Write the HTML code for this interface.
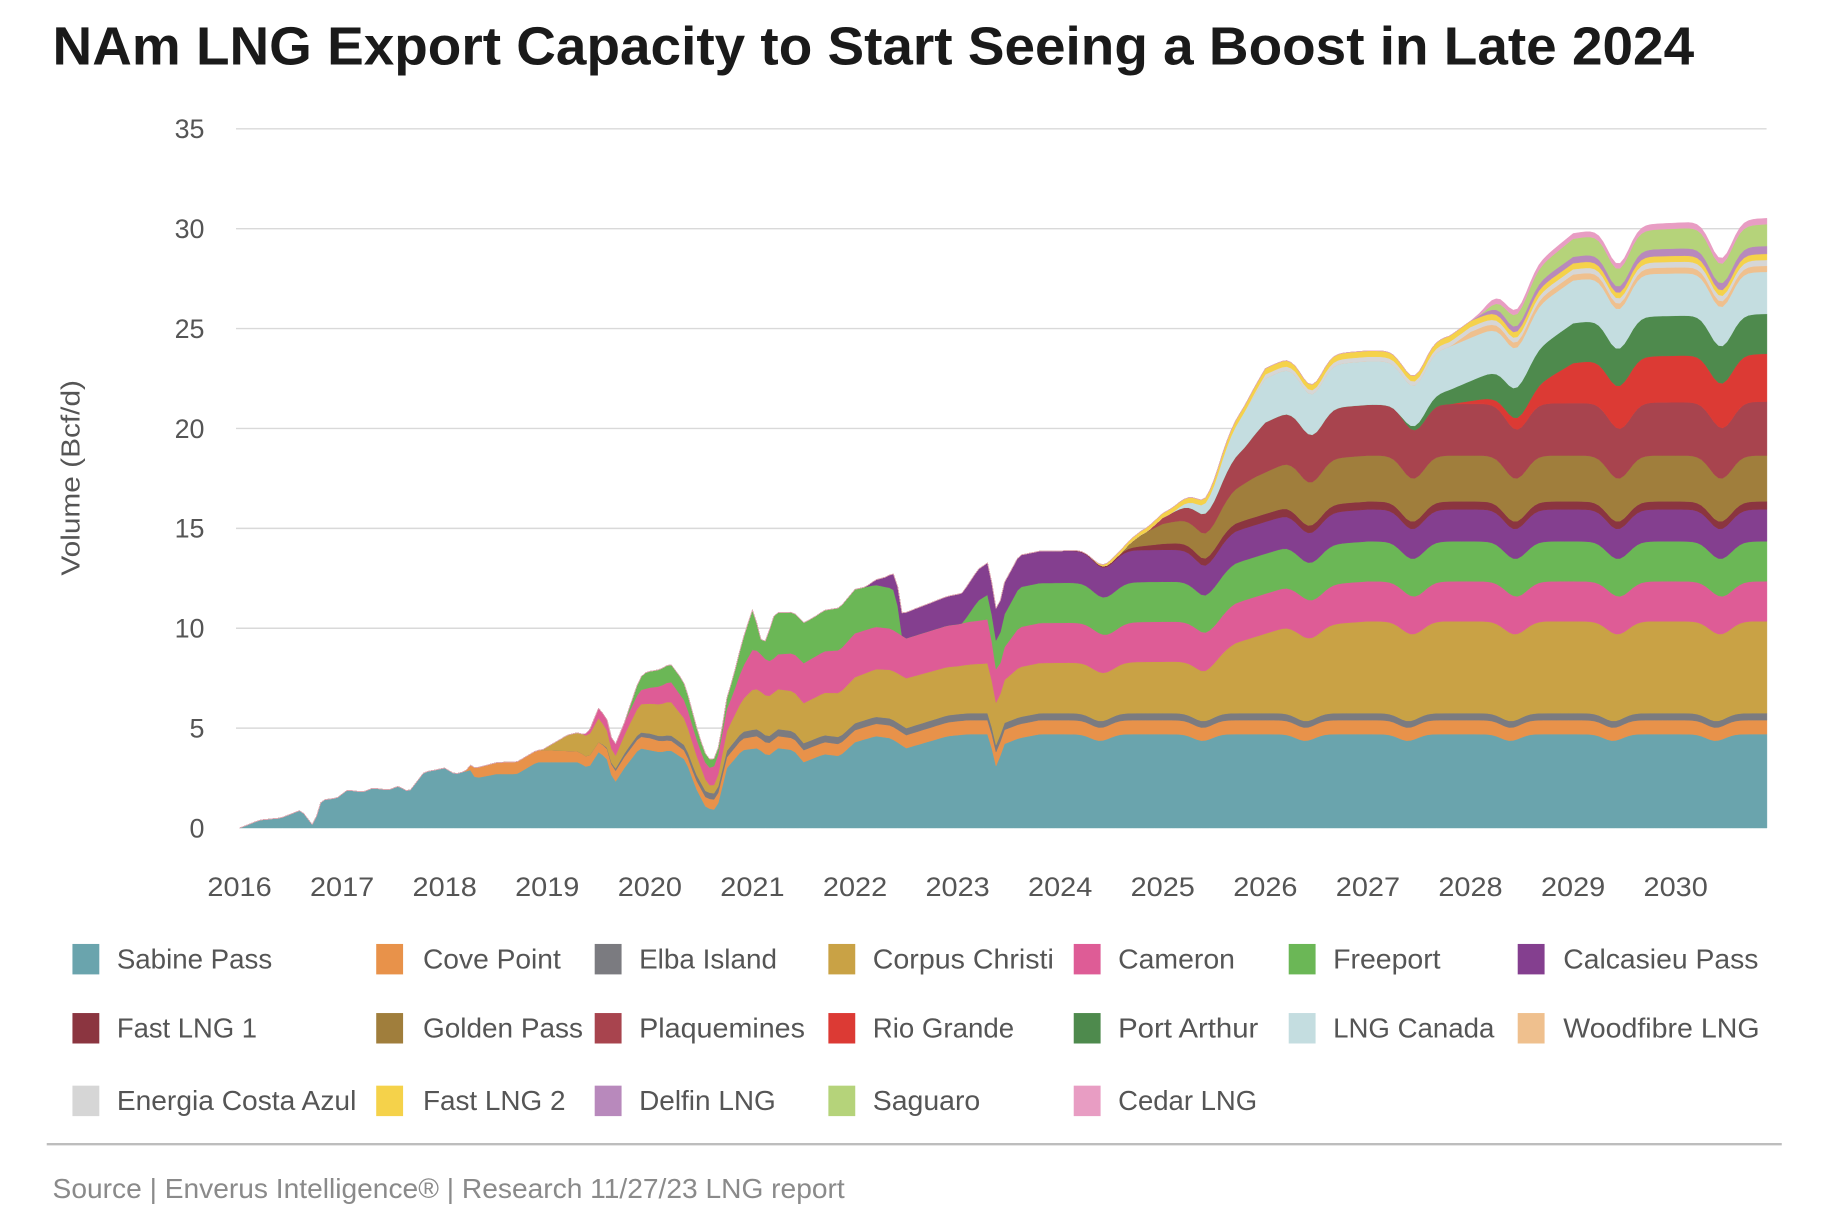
<!DOCTYPE html>
<html><head><meta charset="utf-8"><style>
html,body{margin:0;padding:0;background:#fff;width:1832px;height:1218px;overflow:hidden}
svg{display:block}
text{font-family:"Liberation Sans Narrow","Liberation Sans",sans-serif}
</style></head><body>
<svg id="s" width="1832" height="1218" viewBox="0 0 1568 1040" preserveAspectRatio="none" xmlns="http://www.w3.org/2000/svg">
<text x="45" y="55" font-size="46" font-weight="bold" fill="#1a1a1a" textLength="1405" lengthAdjust="spacingAndGlyphs" style="font-family:'Liberation Sans',sans-serif">NAm LNG Export Capacity to Start Seeing a Boost in Late 2024</text>
<g id="grid"></g>
<g id="areas"></g>
<g id="axes" font-size="23" fill="#555"></g>
<text transform="translate(68,408) rotate(-90)" text-anchor="middle" font-size="22" fill="#555" textLength="167" lengthAdjust="spacingAndGlyphs" style="font-family:'Liberation Sans',sans-serif">Volume (Bcf/d)</text>
<g id="legend" font-size="24" fill="#555"></g>
<line x1="40" y1="977" x2="1525" y2="977" stroke="#bdbdbd" stroke-width="2"/>
<text x="45" y="1023" font-size="24" fill="#8a8a8a" textLength="678" lengthAdjust="spacingAndGlyphs">Source | Enverus Intelligence® | Research 11/27/23 LNG report</text>
</svg>
<script>
var NS="http://www.w3.org/2000/svg";
function X(t){return 205+(t-2016)*87.8;}
function Y(v){return 707-v*17.057;}
function el(tag,attrs,parent,txt){var e=document.createElementNS(NS,tag);for(var k in attrs)e.setAttribute(k,attrs[k]);if(txt!=null)e.textContent=txt;parent.appendChild(e);return e;}
var grid=document.getElementById('grid'),axes=document.getElementById('axes');
for(var v=5;v<=35;v+=5){el('line',{x1:202,x2:1512,y1:Y(v),y2:Y(v),stroke:'#d9d9d9','stroke-width':1.2},grid);}
for(var v=0;v<=35;v+=5){el('text',{x:175,y:Y(v)+8,'text-anchor':'end'},axes,String(v));}
for(var yr=2016;yr<=2030;yr++){el('text',{x:X(yr),y:765,'text-anchor':'middle',textLength:55,lengthAdjust:'spacingAndGlyphs'},axes,String(yr));}
var S=[
["Sabine Pass","#6aa4ad",[[2016,0],[2016.2,0.4],[2016.4,0.5],[2016.6,0.9],[2016.72,0.1],[2016.8,1.4],[2016.95,1.5],[2017.05,1.9],[2017.2,1.8],[2017.3,2.0],[2017.45,1.9],[2017.55,2.1],[2017.65,1.8],[2017.8,2.8],[2018.0,3.0],[2018.1,2.7],[2018.25,2.9],[2018.3,2.5],[2018.5,2.7],[2018.7,2.7],[2018.9,3.3],[2019.1,3.3],[2019.3,3.3],[2019.4,3.0],[2019.5,3.8],[2019.58,3.5],[2019.65,2.2],[2019.75,3.0],[2019.9,4.0],[2020.1,3.8],[2020.2,3.9],[2020.35,3.4],[2020.45,2.0],[2020.55,1.0],[2020.65,0.9],[2020.75,3.0],[2020.9,3.9],[2021.05,4.0],[2021.15,3.6],[2021.25,4.0],[2021.4,3.9],[2021.5,3.3],[2021.7,3.7],[2021.85,3.6],[2022.0,4.3],[2022.2,4.6],[2022.35,4.5],[2022.5,4.0],[2022.7,4.3],[2022.9,4.6],[2023.1,4.7],[2023.3,4.7],[2023.38,3.0],[2023.45,4.2],[2023.6,4.5],[2023.8,4.7],[2031,4.7]]],
["Cove Point","#e8924a",[[2018.2,0],[2018.3,0.5],[2018.6,0.6],[2019,0.6],[2019.5,0.5],[2020,0.6],[2020.4,0.4],[2020.6,0.5],[2021,0.6],[2022,0.6],[2023,0.7],[2031,0.7]]],
["Elba Island","#7b7b80",[[2019.5,0],[2019.8,0.2],[2020.5,0.3],[2021,0.35],[2031,0.35]]],
["Corpus Christi","#c9a245",[[2018.95,0],[2019.2,0.8],[2019.5,1.2],[2019.65,0.6],[2019.9,1.4],[2020.2,1.7],[2020.45,1.0],[2020.6,0.3],[2020.8,1.2],[2021,2.0],[2021.5,2.0],[2022,2.3],[2022.5,2.5],[2023,2.4],[2023.3,2.5],[2023.4,2.0],[2023.6,2.5],[2025.4,2.6],[2025.7,3.5],[2026.2,4.3],[2027,4.6],[2031,4.6]]],
["Cameron","#de5c96",[[2019.35,0],[2019.5,0.5],[2019.9,0.7],[2020.2,1.0],[2020.5,0.8],[2020.6,0.9],[2020.8,1.2],[2021,2.0],[2021.2,1.7],[2021.5,2.0],[2022,2.2],[2022.5,2.0],[2023,2.1],[2023.3,2.2],[2023.4,1.5],[2023.6,2.0],[2031,2.0]]],
["Freeport","#6bb756",[[2019.75,0],[2019.95,0.8],[2020.3,0.9],[2020.5,0.5],[2020.7,0.3],[2020.85,1.0],[2021,2.0],[2021.1,0.5],[2021.2,2.1],[2021.6,2.0],[2022,2.2],[2022.4,2.0],[2022.45,0],[2023.05,0],[2023.2,1.0],[2023.4,1.5],[2023.6,2.0],[2031,2.0]]],
["Calcasieu Pass","#843f8f",[[2022.1,0],[2022.3,0.5],[2022.5,1.3],[2023,1.5],[2023.3,1.6],[2031,1.6]]],
["Fast LNG 1","#8b3540",[[2024.0,0],[2024.3,0.05],[2024.6,0.1],[2025.0,0.3],[2025.5,0.4],[2031,0.4]]],
["Golden Pass","#a07e3c",[[2024.6,0],[2024.8,0.6],[2025.0,1.0],[2025.5,1.4],[2025.9,2.0],[2026.3,2.3],[2031,2.3]]],
["Plaquemines","#a8444e",[[2024.85,0],[2025.0,0.3],[2025.4,1.0],[2025.8,1.8],[2026.0,2.5],[2031,2.7]]],
["Rio Grande","#dc3a34",[[2027.8,0],[2028.2,0.3],[2028.6,0.8],[2029.0,2.0],[2029.5,2.3],[2031,2.4]]],
["Port Arthur","#4e8a4d",[[2027.3,0],[2027.5,0.3],[2028.0,1.0],[2028.5,1.7],[2029.0,2.0],[2031,2.0]]],
["LNG Canada","#c4dde0",[[2025.1,0],[2025.4,0.5],[2025.6,1.2],[2025.8,1.8],[2026.0,2.2],[2031,2.1]]],
["Woodfibre LNG","#efc08e",[[2027.8,0],[2028.0,0.3],[2031,0.3]]],
["Energia Costa Azul","#d6d6d6",[[2025.8,0],[2026.0,0.2],[2031,0.3]]],
["Fast LNG 2","#f5d24a",[[2024.3,0],[2024.5,0.15],[2025.5,0.3],[2031,0.3]]],
["Delfin LNG","#b889bc",[[2028.0,0],[2028.3,0.3],[2031,0.4]]],
["Saguaro","#b5d37a",[[2028.1,0],[2028.4,0.6],[2029.0,0.9],[2031,1.1]]],
["Cedar LNG","#e89dc3",[[2028.0,0],[2028.2,0.25],[2031,0.3]]]
];
function interp(k,t){if(t<=k[0][0])return 0;for(var i=1;i<k.length;i++){if(t<=k[i][0]){var a=k[i-1],b=k[i];return a[1]+(b[1]-a[1])*(t-a[0])/(b[0]-a[0]);}}return k[k.length-1][1];}
function seas(t,j){if(t<2023.9)return 1;var f=t-Math.floor(t);var d=(f-0.45-0.03*((j%5)-2))/0.13;return 1-0.07*Math.exp(-d*d);}
var ts=[];for(var t=2016;t<=2030.89;t+=1/24)ts.push(t);ts.push(2030.89);
var cum=ts.map(function(){return 0;});
var areas=document.getElementById('areas');
S.forEach(function(s,j){
  var low=cum.slice();
  var high=ts.map(function(t,i){return low[i]+interp(s[2],t)*seas(t,j);});
  var d="M";
  for(var i=0;i<ts.length;i++)d+=X(ts[i]).toFixed(1)+","+Y(high[i]).toFixed(1)+" L";
  for(var i=ts.length-1;i>=0;i--)d+=X(ts[i]).toFixed(1)+","+Y(low[i]).toFixed(1)+(i>0?" L":" Z");
  el('path',{d:d,fill:s[1],stroke:s[1],'stroke-width':0.4},areas);
  cum=high;
});
var lg=document.getElementById('legend');
var cols=[[62,100],[322,362],[509,547],[709,747],[919,957],[1103,1141],[1299,1338]];
var rows=[818,877,939];
var widths=[133,118,118,155,100,92,167,120,137,142,121,120,138,168,205,122,117,92,119];
S.forEach(function(s,i){
  var r=Math.floor(i/7),c=i%7;
  var y=rows[r];
  el('rect',{x:cols[c][0],y:y-12,width:23,height:26,fill:s[1]},lg);
  el('text',{x:cols[c][1],y:y+9,textLength:widths[i],lengthAdjust:'spacingAndGlyphs'},lg,s[0]);
});
</script>
</body></html>
